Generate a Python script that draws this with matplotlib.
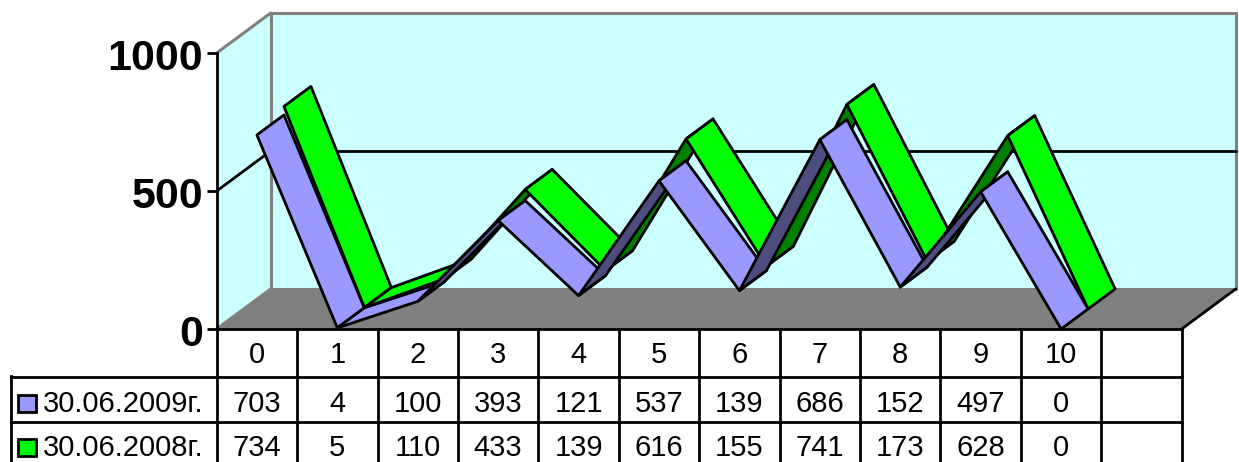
import matplotlib
matplotlib.use("Agg")
import matplotlib.pyplot as plt
from matplotlib import transforms

plt.rcParams['font.family'] = ['Liberation Sans', 'DejaVu Sans']

categories = ["0", "1", "2", "3", "4", "5", "6", "7", "8", "9", "10"]
series_2009 = [703, 4, 100, 393, 121, 537, 139, 686, 152, 497, 0]
series_2008 = [734, 5, 110, 433, 139, 616, 155, 741, 173, 628, 0]
label_2009 = "30.06.2009г."
label_2008 = "30.06.2008г."
y_ticks = [0, 500, 1000]

W, H = 1239, 462
fig = plt.figure(figsize=(W / 100, H / 100), dpi=100, facecolor="white")
ax = fig.add_axes([216.7 / W, (H - 329) / H, (1181.7 - 216.7) / W, (329 - 53) / H])
ax.set_xlim(-0.5, 11.5)
ax.set_ylim(0, 1000)
ax.patch.set_visible(False)

DX, DV = 0.672, 145.0
LW = 2.0
GLW = 2.2
CYAN, GRAY = "#CCFFFF", "#808080"
X0, X1 = -0.5, 11.5


def proj(x, v, d):
    return x + d * DX, v + d * DV


def poly(corners, **kw):
    xs, ys = zip(*corners)
    ax.fill(xs, ys, clip_on=False, **kw)


def seg(a, b, **kw):
    ax.plot([a[0], b[0]], [a[1], b[1]], clip_on=False, solid_capstyle="round", **kw)


# walls and floor
poly([proj(X0, 0, 1), proj(X1, 0, 1), proj(X1, 1000, 1), proj(X0, 1000, 1)], fc=CYAN, ec="none", zorder=1)
poly([proj(X0, 0, 0), proj(X0, 0, 1), proj(X0, 1000, 1), proj(X0, 1000, 0)], fc=CYAN, ec="none", zorder=1)
poly([proj(X0, 0, 0), proj(X1, 0, 0), proj(X1, 0, 1), proj(X0, 0, 1)], fc=GRAY, ec="none", zorder=1.1)
for a, b in [
    (proj(X0, 1000, 0), proj(X0, 1000, 1)),
    (proj(X0, 1000, 1), proj(X1, 1000, 1)),
    (proj(X0, 0, 1), proj(X0, 1000, 1)),
    (proj(X1, 0, 1), proj(X1, 1000, 1)),
    (proj(X0, 0, 0), proj(X0, 0, 1)),
    (proj(X0, 0, 1), proj(X1, 0, 1)),
]:
    seg(a, b, color=GRAY, lw=GLW, zorder=1.2)
seg(proj(X1, 0, 0), proj(X1, 0, 1), color="black", lw=LW, zorder=1.2)
seg(proj(X0, 500, 0), proj(X0, 500, 1), color="black", lw=LW, zorder=1.3)
seg(proj(X0, 500, 1), proj(X1, 500, 1), color="black", lw=LW, zorder=1.3)

# ribbons, back series first
z = 2.0
for values, d0, d1, light, dark in [
    (series_2008, 0.5, 1.0, "#00FF00", "#008000"),
    (series_2009, 0.0, 0.5, "#9999FF", "#4D4D80"),
]:
    for i in range(len(values) - 1):
        rise = values[i + 1] - values[i]
        top_visible = rise < DV / DX
        poly(
            [proj(i, values[i], d0), proj(i, values[i], d1),
             proj(i + 1, values[i + 1], d1), proj(i + 1, values[i + 1], d0)],
            fc=light if top_visible else dark, ec="black", lw=LW, joinstyle="round", zorder=z,
        )
        z += 0.01

for s in ["top", "right", "bottom"]:
    ax.spines[s].set_visible(False)
ax.spines["left"].set_linewidth(LW)
ax.spines["left"].set_zorder(1.4)
ax.set_xticks([])
ax.set_yticks(y_ticks)
ax.tick_params(axis="y", length=7.2, width=LW, pad=2.5, labelsize=31)
shift = transforms.ScaledTranslation(0, -1.5 / 100, fig.dpi_scale_trans)
for t in ax.get_yticklabels():
    t.set_fontweight("bold")
    t.set_transform(t.get_transform() + shift)

# data table
tab = fig.add_axes([0, 0, 1, 1])
tab.set_xlim(0, W)
tab.set_ylim(H, 0)
tab.axis("off")
tr = transforms.blended_transform_factory(ax.transData, tab.transData)

edges = [X0 + k for k in range(13)]
for yy in [329, 377, 421.5]:
    tab.plot([edges[0], edges[-1]], [yy, yy], transform=tr, color="black", lw=LW, clip_on=False)
for xx in edges:
    tab.plot([xx, xx], [329, H], transform=tr, color="black", lw=LW, clip_on=False)
tab.plot([10.5, 217], [377, 377], color="black", lw=LW)
tab.plot([10.5, 217], [421.5, 421.5], color="black", lw=LW)
tab.plot([10.5, 10.5], [376, H], color="black", lw=LW)

FS = 21
for i, c in enumerate(categories):
    tab.text(i, 363, c, transform=tr, ha="center", va="baseline", fontsize=FS)
    tab.text(i, 411.5, str(series_2009[i]), transform=tr, ha="center", va="baseline", fontsize=FS)
    tab.text(i, 455.5, str(series_2008[i]), transform=tr, ha="center", va="baseline", fontsize=FS)

for label, col, top, base in [(label_2009, "#9999FF", 395, 411.5), (label_2008, "#00FF00", 439, 455.5)]:
    tab.add_patch(plt.Rectangle((18, top), 18, 17, fc=col, ec="black", lw=LW))
    tab.text(43, base, label, ha="left", va="baseline", fontsize=FS)

fig.savefig("out.png", dpi=100)
